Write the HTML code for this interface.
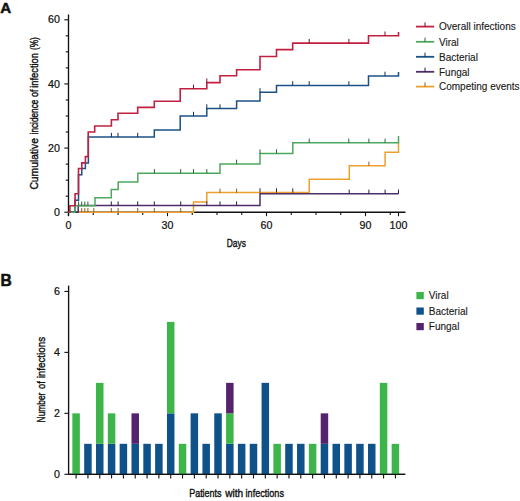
<!DOCTYPE html>
<html><head><meta charset="utf-8"><title>Cumulative incidence of infection</title>
<style>
html,body{margin:0;padding:0;background:#fff;}
body{width:520px;height:501px;overflow:hidden;}
svg{display:block;font-family:"Liberation Sans", sans-serif;}
text{fill:#111;stroke:#111;stroke-width:0.22px;}
.pl{stroke-width:0.5px;}
.lg{fill:#1a1a1a;stroke:#1a1a1a;stroke-width:0.12px;}
.ti{stroke-width:0.4px;}
</style></head>
<body>
<svg width="520" height="501" viewBox="0 0 520 501">
<rect width="520" height="501" fill="#fff"/>
<path d="M68.5,14.5 V216" stroke="#111" stroke-width="1.35" fill="none"/>
<path d="M68.5,212.2 H405.5" stroke="#111" stroke-width="1.35" fill="none"/>
<path d="M64.3,212.20 H68.5" stroke="#111" stroke-width="1.1"/>
<path d="M65.7,196.17 H68.5" stroke="#111" stroke-width="1.1"/>
<path d="M65.7,180.13 H68.5" stroke="#111" stroke-width="1.1"/>
<path d="M65.7,164.10 H68.5" stroke="#111" stroke-width="1.1"/>
<path d="M64.3,148.07 H68.5" stroke="#111" stroke-width="1.1"/>
<path d="M65.7,132.03 H68.5" stroke="#111" stroke-width="1.1"/>
<path d="M65.7,116.00 H68.5" stroke="#111" stroke-width="1.1"/>
<path d="M65.7,99.97 H68.5" stroke="#111" stroke-width="1.1"/>
<path d="M64.3,83.93 H68.5" stroke="#111" stroke-width="1.1"/>
<path d="M65.7,67.90 H68.5" stroke="#111" stroke-width="1.1"/>
<path d="M65.7,51.86 H68.5" stroke="#111" stroke-width="1.1"/>
<path d="M65.7,35.83 H68.5" stroke="#111" stroke-width="1.1"/>
<path d="M64.3,19.80 H68.5" stroke="#111" stroke-width="1.1"/>
<path d="M68.50,212.2 V216.2" stroke="#111" stroke-width="1.1"/>
<path d="M93.25,212.2 V215.0" stroke="#111" stroke-width="1.1"/>
<path d="M118.00,212.2 V215.0" stroke="#111" stroke-width="1.1"/>
<path d="M142.75,212.2 V215.0" stroke="#111" stroke-width="1.1"/>
<path d="M167.50,212.2 V216.2" stroke="#111" stroke-width="1.1"/>
<path d="M192.25,212.2 V215.0" stroke="#111" stroke-width="1.1"/>
<path d="M217.00,212.2 V215.0" stroke="#111" stroke-width="1.1"/>
<path d="M241.75,212.2 V215.0" stroke="#111" stroke-width="1.1"/>
<path d="M266.50,212.2 V216.2" stroke="#111" stroke-width="1.1"/>
<path d="M291.25,212.2 V215.0" stroke="#111" stroke-width="1.1"/>
<path d="M316.00,212.2 V215.0" stroke="#111" stroke-width="1.1"/>
<path d="M340.75,212.2 V215.0" stroke="#111" stroke-width="1.1"/>
<path d="M365.50,212.2 V216.2" stroke="#111" stroke-width="1.1"/>
<path d="M390.25,212.2 V215.0" stroke="#111" stroke-width="1.1"/>
<path d="M398.50,212.2 V216.2" stroke="#111" stroke-width="1.1"/>
<text transform="translate(59.9,215.80) scale(1.07,1)" text-anchor="end" font-size="10">0</text>
<text transform="translate(59.9,151.67) scale(1.07,1)" text-anchor="end" font-size="10">20</text>
<text transform="translate(59.9,87.53) scale(1.07,1)" text-anchor="end" font-size="10">40</text>
<text transform="translate(59.9,23.40) scale(1.07,1)" text-anchor="end" font-size="10">60</text>
<text transform="translate(68.50,228.6) scale(1.07,1)" text-anchor="middle" font-size="10">0</text>
<text transform="translate(167.50,228.6) scale(1.07,1)" text-anchor="middle" font-size="10">30</text>
<text transform="translate(266.50,228.6) scale(1.07,1)" text-anchor="middle" font-size="10">60</text>
<text transform="translate(365.50,228.6) scale(1.07,1)" text-anchor="middle" font-size="10">90</text>
<text transform="translate(398.50,228.6) scale(1.07,1)" text-anchor="middle" font-size="10">100</text>
<text transform="translate(226.81,247.2) scale(0.7101,1)" font-size="11.8" class="ti">Days</text>
<text transform="translate(38.3,189.62) rotate(-90) scale(0.8739,1)" font-size="11.8" class="ti">Cumulative</text>
<text transform="translate(38.3,134.45) rotate(-90) scale(0.7004,1)" font-size="11.8" class="ti">incidence</text>
<text transform="translate(38.3,97.08) rotate(-90) scale(0.7690,1)" font-size="11.8" class="ti">of</text>
<text transform="translate(38.3,87.72) rotate(-90) scale(0.7902,1)" font-size="11.8" class="ti">infection</text>
<text transform="translate(38.3,50.12) rotate(-90) scale(0.7106,1)" font-size="11.8" class="ti">(%)</text>
<path d="M78.2,212.2 H193.5 V202 H206.8 V192.6 H309.2 V179.2 H349.3 V165.8 H385.1 V152.2 H398.5 V142.8" stroke="#eda02e" stroke-width="1.5" fill="none" stroke-linejoin="miter" stroke-linecap="butt"/>
<path d="M68.5,212.2 H78.2 V205.6 H260 V193.8 H398.5" stroke="#4e2e68" stroke-width="1.5" fill="none" stroke-linejoin="miter" stroke-linecap="butt"/>
<path d="M68.5,212.2 H74.9 V200.2 H78.5 V174.8 H81.8 V168.5 H85.4 V162.9 H88.4 V137 H154.3 V130 H180.2 V116 H206.8 V108.5 H236.6 V101.1 H260 V92.3 H276.5 V85.4 H368.5 V75.9 H398.5 V72" stroke="#1c5186" stroke-width="1.5" fill="none" stroke-linejoin="miter" stroke-linecap="butt"/>
<path d="M68.5,212.2 H74.7 V205.7 H95 V197.8 H111.3 V189.6 H118.2 V181.9 H137.8 V173.3 H220 V163.9 H260 V153.5 H292.8 V142.8 H398.5 V136" stroke="#4ca85e" stroke-width="1.5" fill="none" stroke-linejoin="miter" stroke-linecap="butt"/>
<path d="M68.5,212.2 H69.9 V205.8 H75.1 V193.7 H78.5 V168.5 H81.8 V162.9 H85.4 V156.6 H88.2 V132 H94.7 V126 H111.4 V119.7 H118 V113.3 H137.7 V107.4 H154.3 V101.3 H180.2 V88.8 H206.8 V82.6 H220 V75.7 H236.6 V69.7 H260 V56.5 H276.5 V49.6 H292.7 V43.1 H368.5 V35.7 H398.5 V32" stroke="#c12040" stroke-width="1.6" fill="none" stroke-linejoin="miter" stroke-linecap="butt"/>
<path d="M81.7,212.2 V208.0 M84.8,212.2 V208.0 M87.9,212.2 V208.0 M93.8,212.2 V208.0 M111.3,212.2 V208.0 M118.1,212.2 V208.0 M137.7,212.2 V208.0 M154.3,212.2 V208.0 M180.7,212.2 V208.0 M220,192.8 V188.6 M236.6,192.8 V188.6 M368.9,165.8 V161.6" stroke="#8e601b" stroke-width="1" fill="none"/>
<path d="M111.3,205.6 V201.4 M118.1,205.6 V201.4 M137.7,205.6 V201.4 M154.3,205.6 V201.4 M180.7,205.6 V201.4 M206.8,205.6 V201.4 M220,205.6 V201.4 M236.6,205.6 V201.4 M349.2,193.8 V189.6 M368.9,193.8 V189.6 M385.1,193.8 V189.6 M398.5,193.8 V189.6 M260,192.5 V188.3 M276.5,192.5 V188.3 M292.8,192.5 V188.3" stroke="#2e1b3e" stroke-width="1" fill="none"/>
<path d="M111.4,137 V132.8 M118,137 V132.8 M137.7,137 V132.8 M193.5,116 V111.8 M206.8,108.5 V104.3 M220,108.5 V104.3 M260,92.3 V88.1 M292.7,85.4 V81.2 M309.2,85.4 V81.2 M348.9,85.4 V81.2 M385,75.9 V71.7" stroke="#103050" stroke-width="1" fill="none"/>
<path d="M78.6,205.7 V201.5 M81.7,205.7 V201.5 M84.8,205.7 V201.5 M87.9,205.7 V201.5 M154.4,173.3 V169.1 M180.7,173.3 V169.1 M193.5,173.3 V169.1 M206.8,173.3 V169.1 M236.6,163.9 V159.7 M260,153.6 V149.4 M276.5,153.5 V149.3 M309.2,142.8 V138.6 M348.8,142.8 V138.6 M368.9,142.8 V138.6 M385.1,142.8 V138.6" stroke="#2d6438" stroke-width="1" fill="none"/>
<path d="M193.5,88.8 V84.6 M206.8,82.6 V78.4 M309.2,43.1 V38.9 M348.9,43.1 V38.9 M385,35.7 V31.5" stroke="#731326" stroke-width="1" fill="none"/>
<path d="M416,26.6 H434.2" stroke="#c12040" stroke-width="1.8"/>
<path d="M425,26.6 V22.4" stroke="#731326" stroke-width="1"/>
<text x="439" y="30.3" font-size="10" class="lg">Overall infections</text>
<path d="M416,41.8 H434.2" stroke="#4ca85e" stroke-width="1.8"/>
<path d="M425,41.8 V37.6" stroke="#2d6438" stroke-width="1"/>
<text x="439" y="45.5" font-size="10" class="lg">Viral</text>
<path d="M416,56.8 H434.2" stroke="#1c5186" stroke-width="1.8"/>
<path d="M425,56.8 V52.6" stroke="#103050" stroke-width="1"/>
<text x="439" y="60.5" font-size="10" class="lg">Bacterial</text>
<path d="M416,71.8 H434.2" stroke="#4e2e68" stroke-width="1.8"/>
<path d="M425,71.8 V67.6" stroke="#2e1b3e" stroke-width="1"/>
<text x="439" y="75.5" font-size="10" class="lg">Fungal</text>
<path d="M416,86.6 H434.2" stroke="#eda02e" stroke-width="1.8"/>
<path d="M425,86.6 V82.4" stroke="#8e601b" stroke-width="1"/>
<text x="439" y="90.3" font-size="10" class="lg">Competing events</text>
<path d="M68.6,285.6 V474.3" stroke="#111" stroke-width="1.35" fill="none"/>
<path d="M68.6,474.3 H405.2" stroke="#111" stroke-width="1.35" fill="none"/>
<path d="M64.4,474.30 H68.6" stroke="#111" stroke-width="1.1"/>
<text transform="translate(59.9,477.90) scale(1.07,1)" text-anchor="end" font-size="10">0</text>
<path d="M64.4,413.34 H68.6" stroke="#111" stroke-width="1.1"/>
<text transform="translate(59.9,416.94) scale(1.07,1)" text-anchor="end" font-size="10">2</text>
<path d="M64.4,352.38 H68.6" stroke="#111" stroke-width="1.1"/>
<text transform="translate(59.9,355.98) scale(1.07,1)" text-anchor="end" font-size="10">4</text>
<path d="M64.4,291.42 H68.6" stroke="#111" stroke-width="1.1"/>
<text transform="translate(59.9,295.02) scale(1.07,1)" text-anchor="end" font-size="10">6</text>
<rect x="72.35" y="413.34" width="7.5" height="60.96" fill="#3db54a"/>
<path d="M76.10,474.3 V478.5" stroke="#111" stroke-width="1.1"/>
<rect x="84.18" y="443.82" width="7.5" height="30.48" fill="#0f5189"/>
<path d="M87.93,474.3 V478.5" stroke="#111" stroke-width="1.1"/>
<rect x="96.00" y="443.82" width="7.5" height="30.48" fill="#0f5189"/>
<rect x="96.00" y="382.86" width="7.5" height="60.96" fill="#3db54a"/>
<path d="M99.75,474.3 V478.5" stroke="#111" stroke-width="1.1"/>
<rect x="107.83" y="443.82" width="7.5" height="30.48" fill="#0f5189"/>
<rect x="107.83" y="413.34" width="7.5" height="30.48" fill="#3db54a"/>
<path d="M111.58,474.3 V478.5" stroke="#111" stroke-width="1.1"/>
<rect x="119.65" y="443.82" width="7.5" height="30.48" fill="#0f5189"/>
<path d="M123.40,474.3 V478.5" stroke="#111" stroke-width="1.1"/>
<rect x="131.48" y="443.82" width="7.5" height="30.48" fill="#0f5189"/>
<rect x="131.48" y="413.34" width="7.5" height="30.48" fill="#55236e"/>
<path d="M135.23,474.3 V478.5" stroke="#111" stroke-width="1.1"/>
<rect x="143.31" y="443.82" width="7.5" height="30.48" fill="#0f5189"/>
<path d="M147.06,474.3 V478.5" stroke="#111" stroke-width="1.1"/>
<rect x="155.13" y="443.82" width="7.5" height="30.48" fill="#0f5189"/>
<path d="M158.88,474.3 V478.5" stroke="#111" stroke-width="1.1"/>
<rect x="166.96" y="413.34" width="7.5" height="60.96" fill="#0f5189"/>
<rect x="166.96" y="321.90" width="7.5" height="91.44" fill="#3db54a"/>
<path d="M170.71,474.3 V478.5" stroke="#111" stroke-width="1.1"/>
<rect x="178.78" y="443.82" width="7.5" height="30.48" fill="#3db54a"/>
<path d="M182.53,474.3 V478.5" stroke="#111" stroke-width="1.1"/>
<rect x="190.61" y="413.34" width="7.5" height="60.96" fill="#0f5189"/>
<path d="M194.36,474.3 V478.5" stroke="#111" stroke-width="1.1"/>
<rect x="202.44" y="443.82" width="7.5" height="30.48" fill="#0f5189"/>
<path d="M206.19,474.3 V478.5" stroke="#111" stroke-width="1.1"/>
<rect x="214.26" y="413.34" width="7.5" height="60.96" fill="#0f5189"/>
<path d="M218.01,474.3 V478.5" stroke="#111" stroke-width="1.1"/>
<rect x="226.09" y="443.82" width="7.5" height="30.48" fill="#0f5189"/>
<rect x="226.09" y="413.34" width="7.5" height="30.48" fill="#3db54a"/>
<rect x="226.09" y="382.86" width="7.5" height="30.48" fill="#55236e"/>
<path d="M229.84,474.3 V478.5" stroke="#111" stroke-width="1.1"/>
<rect x="237.91" y="443.82" width="7.5" height="30.48" fill="#0f5189"/>
<path d="M241.66,474.3 V478.5" stroke="#111" stroke-width="1.1"/>
<rect x="249.74" y="443.82" width="7.5" height="30.48" fill="#0f5189"/>
<path d="M253.49,474.3 V478.5" stroke="#111" stroke-width="1.1"/>
<rect x="261.57" y="382.86" width="7.5" height="91.44" fill="#0f5189"/>
<path d="M265.32,474.3 V478.5" stroke="#111" stroke-width="1.1"/>
<rect x="273.39" y="443.82" width="7.5" height="30.48" fill="#3db54a"/>
<path d="M277.14,474.3 V478.5" stroke="#111" stroke-width="1.1"/>
<rect x="285.22" y="443.82" width="7.5" height="30.48" fill="#0f5189"/>
<path d="M288.97,474.3 V478.5" stroke="#111" stroke-width="1.1"/>
<rect x="297.04" y="443.82" width="7.5" height="30.48" fill="#0f5189"/>
<path d="M300.79,474.3 V478.5" stroke="#111" stroke-width="1.1"/>
<rect x="308.87" y="443.82" width="7.5" height="30.48" fill="#3db54a"/>
<path d="M312.62,474.3 V478.5" stroke="#111" stroke-width="1.1"/>
<rect x="320.70" y="443.82" width="7.5" height="30.48" fill="#0f5189"/>
<rect x="320.70" y="413.34" width="7.5" height="30.48" fill="#55236e"/>
<path d="M324.45,474.3 V478.5" stroke="#111" stroke-width="1.1"/>
<rect x="332.52" y="443.82" width="7.5" height="30.48" fill="#0f5189"/>
<path d="M336.27,474.3 V478.5" stroke="#111" stroke-width="1.1"/>
<rect x="344.35" y="443.82" width="7.5" height="30.48" fill="#0f5189"/>
<path d="M348.10,474.3 V478.5" stroke="#111" stroke-width="1.1"/>
<rect x="356.17" y="443.82" width="7.5" height="30.48" fill="#0f5189"/>
<path d="M359.92,474.3 V478.5" stroke="#111" stroke-width="1.1"/>
<rect x="368.00" y="443.82" width="7.5" height="30.48" fill="#0f5189"/>
<path d="M371.75,474.3 V478.5" stroke="#111" stroke-width="1.1"/>
<rect x="379.83" y="382.86" width="7.5" height="91.44" fill="#3db54a"/>
<path d="M383.58,474.3 V478.5" stroke="#111" stroke-width="1.1"/>
<rect x="391.65" y="443.82" width="7.5" height="30.48" fill="#3db54a"/>
<path d="M395.40,474.3 V478.5" stroke="#111" stroke-width="1.1"/>
<path d="M68.6,474.3 H405.2" stroke="#111" stroke-width="1.35" fill="none"/>
<text transform="translate(189.16,496.6) scale(0.7614,1)" font-size="11.8" class="ti">Patients</text>
<text transform="translate(225.21,496.6) scale(0.8549,1)" font-size="11.8" class="ti">with</text>
<text transform="translate(245.59,496.6) scale(0.7711,1)" font-size="11.8" class="ti">infections</text>
<text transform="translate(45.2,422.39) rotate(-90) scale(0.7083,1)" font-size="11.8" class="ti">Number</text>
<text transform="translate(45.2,389.10) rotate(-90) scale(0.8010,1)" font-size="11.8" class="ti">of</text>
<text transform="translate(45.2,378.36) rotate(-90) scale(0.8327,1)" font-size="11.8" class="ti">infections</text>
<rect x="416.4" y="292" width="7.4" height="7.2" fill="#3db54a"/>
<text x="428.8" y="299.2" font-size="10" class="lg">Viral</text>
<rect x="416.4" y="307.5" width="7.4" height="7.2" fill="#0f5189"/>
<text x="428.8" y="314.7" font-size="10" class="lg">Bacterial</text>
<rect x="416.4" y="323" width="7.4" height="7.2" fill="#55236e"/>
<text x="428.8" y="330.2" font-size="10" class="lg">Fungal</text>
<text x="0.2" y="13.1" font-size="15.2" font-weight="bold" class="pl">A</text>
<text x="0.5" y="285.5" font-size="15.6" font-weight="bold" class="pl">B</text>
</svg>
</body></html>
